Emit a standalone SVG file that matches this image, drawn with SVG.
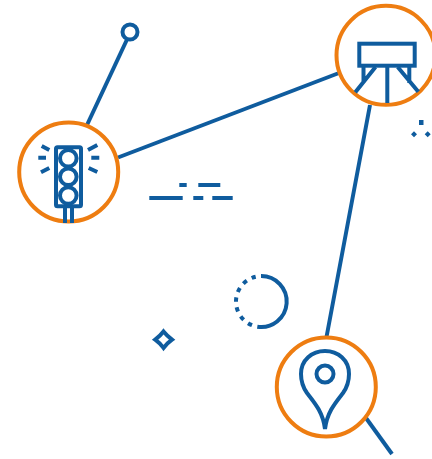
<svg xmlns="http://www.w3.org/2000/svg" width="432" height="459" viewBox="0 0 432 459">
<style>
.b{fill:none;stroke:#0f5c9e;stroke-width:4}
.o{fill:none;stroke:#ee7d11;stroke-width:4}
</style>
<g id="connectors" class="b">
<path d="M127 39.500L87 125"/>
<path d="M118 157.500L339 73"/>
<path d="M370 105L326.500 337"/>
<path d="M366 418L392 454"/>
</g>
<g id="end-dot"><circle class="b" cx="130" cy="32" r="7.500"/></g>
<g id="traffic-light">
<circle class="o" cx="68.700" cy="172" r="49.500"/>
<rect class="b" x="56" y="147.300" width="25" height="59" rx="1.500"/>
<circle class="b" cx="68.300" cy="158.300" r="8.300"/>
<circle class="b" cx="68.300" cy="176.800" r="8.300"/>
<circle class="b" cx="68.300" cy="195.500" r="8.300"/>
<path class="b" d="M65 206V223M72 206V223"/>
<path class="b" d="M41.700 146L49.300 150M38.300 157.700H46M41 172.300L49.300 168M97.300 145L88 150M91.300 157.700H99.300M88.700 168L97.300 172"/>
</g>
<g id="camera">
<circle class="o" cx="386" cy="55.300" r="49.500"/>
<rect class="b" x="359.300" y="43.700" width="55.400" height="22"/>
<path class="b" d="M387.300 67V103M363.500 67V83M375.500 67L355.300 92.300M409.300 67V83M397.700 67L418.300 91.700"/>
</g>
<g id="pin">
<circle class="o" cx="326.300" cy="387" r="49.500"/>
<path class="b" d="M325 429C323 412 314 402 307 393C302 386 301 380 301 374C301 360 312 351 325 351C338 351 349 360 349 374C349 380 348 386 343 393C336 402 327 412 325 429Z"/>
<circle class="b" cx="325" cy="374" r="8.500"/>
</g>
<g id="dashes" class="b">
<path d="M149.300 198H182.700M193.300 198H203.300M212.300 198H232.700M179.300 185H186.700M198.300 185H220.300"/>
</g>
<g id="dots" fill="#0f5c9e">
<rect x="419" y="120" width="4.500" height="5"/>
<path d="M414 131.300L417 134.300L414 137.300L411 134.300ZM427.700 131.300L430.700 134.300L427.700 137.300L424.700 134.300Z"/>
</g>
<g id="ring">
<path class="b" d="M261 276A25.500 25.500 0 1 1 257.300 326.700"/>
<path class="b" stroke-dasharray="4.500 5.500" d="M252 325.200A25.500 25.500 0 0 1 255.700 276.700"/>
</g>
<g id="diamond">
<path class="b" stroke-miterlimit="8" d="M163.500 331.500Q167.200 336 172 339.700Q167.200 343.200 163.500 347.900Q160 343.200 155.200 339.700Q160 336 163.500 331.500Z"/>
</g>
</svg>
